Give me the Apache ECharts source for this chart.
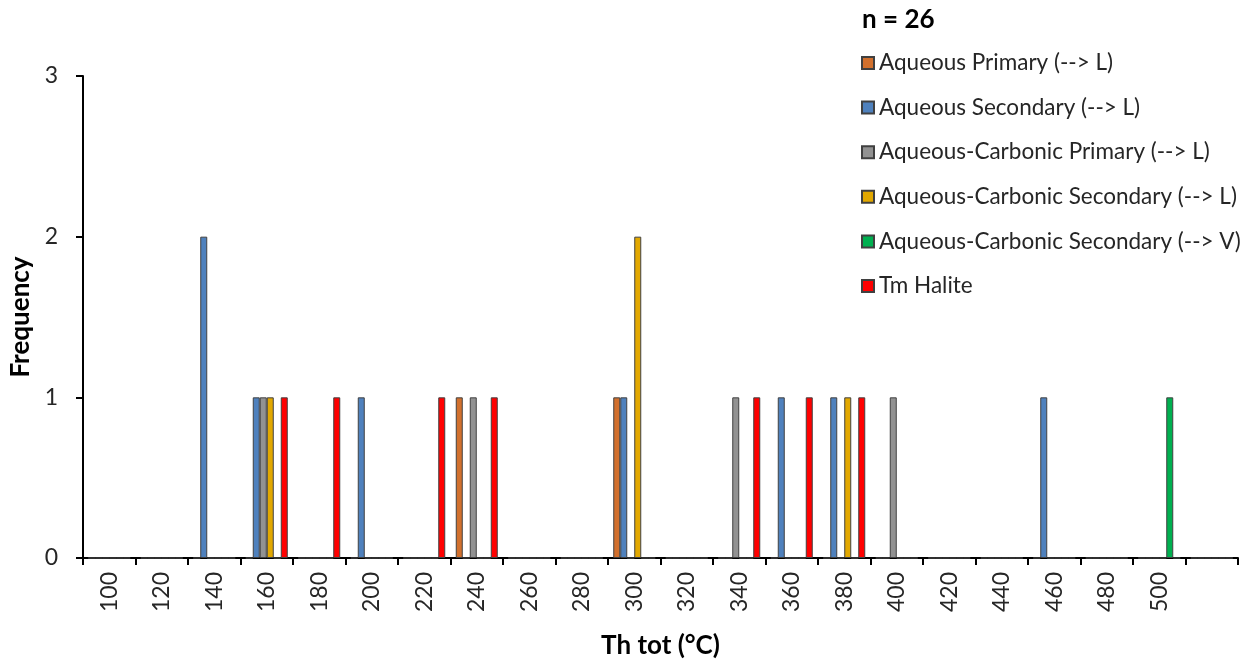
<!DOCTYPE html>
<html>
<head>
<meta charset="utf-8">
<script src="https://cdn.jsdelivr.net/npm/echarts@6/dist/echarts.min.js"></script>
<style>
  html, body { margin: 0; padding: 0; background: #fff; }
  #chart { width: 1256px; height: 662px; }
</style>
</head>
<body>
<div id="chart"></div>
<script>
// Temperature bins (°C); the final bin carries no label
const categories = ['100','120','140','160','180','200','220','240','260','280','300',
                    '320','340','360','380','400','420','440','460','480','500',''];

// Frequency per bin for each inclusion type
const aqueousPrimaryL        = [0,0,0,0,0,0,0,1,0,0,1,0,0,0,0,0,0,0,0,0,0,0];
const aqueousSecondaryL      = [0,0,2,1,0,1,0,0,0,0,1,0,0,1,1,0,0,0,1,0,0,0];
const aqCarbonicPrimaryL     = [0,0,0,1,0,0,0,1,0,0,0,0,1,0,0,1,0,0,0,0,0,0];
const aqCarbonicSecondaryL   = [0,0,0,1,0,0,0,0,0,0,2,0,0,0,1,0,0,0,0,0,0,0];
const aqCarbonicSecondaryV   = [0,0,0,0,0,0,0,0,0,0,0,0,0,0,0,0,0,0,0,0,1,0];
const tmHalite               = [0,0,0,1,1,0,1,1,0,0,0,0,1,1,1,0,0,0,0,0,0,0];

const yTicks = { min: 0, max: 3, interval: 1 };
const sampleCount = 26;

const FONT = 'Lato';
const TEXT = '#262626';

const seriesDefs = [
  { name: 'Aqueous Primary (--> L)',             data: aqueousPrimaryL,      color: '#D2702D' },
  { name: 'Aqueous Secondary (--> L)',           data: aqueousSecondaryL,    color: '#4F81BD' },
  { name: 'Aqueous-Carbonic Primary (--> L)',    data: aqCarbonicPrimaryL,   color: '#929292' },
  { name: 'Aqueous-Carbonic Secondary (--> L)',  data: aqCarbonicSecondaryL, color: '#E2A800' },
  { name: 'Aqueous-Carbonic Secondary (--> V)',  data: aqCarbonicSecondaryV, color: '#00B050' },
  { name: 'Tm Halite',                           data: tmHalite,             color: '#FF0000' }
];

const chart = echarts.init(document.getElementById('chart'), null, { renderer: 'canvas' });

chart.setOption({
  animation: false,
  backgroundColor: '#ffffff',
  title: {
    text: 'n = ' + sampleCount,
    left: 862,
    top: 7,
    padding: 0,
    textStyle: { fontFamily: FONT, fontWeight: 'bold', fontSize: 26, color: '#000' }
  },
  legend: {
    orient: 'vertical',
    left: 861,
    top: 51,
    padding: 0,
    itemWidth: 12,
    itemHeight: 12,
    itemGap: 20.6,
    itemTextGap: 9,
    icon: 'rect',
    textStyle: { fontFamily: FONT, fontSize: 22.5, color: TEXT, lineHeight: 24 },
    data: seriesDefs.map(s => s.name)
  },
  grid: { left: 83, right: 18, top: 76, bottom: 104, containLabel: false, outerBoundsMode: 'none' },
  xAxis: {
    type: 'category',
    data: categories,
    name: 'Th tot (°C)',
    nameLocation: 'middle',
    nameGap: 75,
    nameTextStyle: { fontFamily: FONT, fontWeight: 'bold', fontSize: 26, color: '#000' },
    axisLine: { lineStyle: { color: '#000', width: 2 } },
    axisTick: { show: true, alignWithLabel: false, length: 7, lineStyle: { color: '#000', width: 2 } },
    axisLabel: { rotate: 90, interval: 0, margin: 14, fontFamily: FONT, fontSize: 23, color: TEXT },
    splitLine: { show: false }
  },
  yAxis: {
    type: 'value',
    min: yTicks.min,
    max: yTicks.max,
    interval: yTicks.interval,
    name: 'Frequency',
    nameLocation: 'middle',
    nameGap: 42,
    nameTextStyle: { fontFamily: FONT, fontWeight: 'bold', fontSize: 26, color: '#000' },
    axisLine: { show: true, lineStyle: { color: '#000', width: 2 } },
    axisTick: { show: true, length: 7, lineStyle: { color: '#000', width: 2 } },
    axisLabel: { margin: 25, fontFamily: FONT, fontSize: 23, color: TEXT },
    splitLine: { show: false }
  },
  series: seriesDefs.map(s => ({
    name: s.name,
    type: 'bar',
    data: s.data,
    barGap: '0%',
    barCategoryGap: '20%',
    itemStyle: { color: s.color, borderColor: '#404040', borderWidth: 1 }
  }))
});
</script>
</body>
</html>
